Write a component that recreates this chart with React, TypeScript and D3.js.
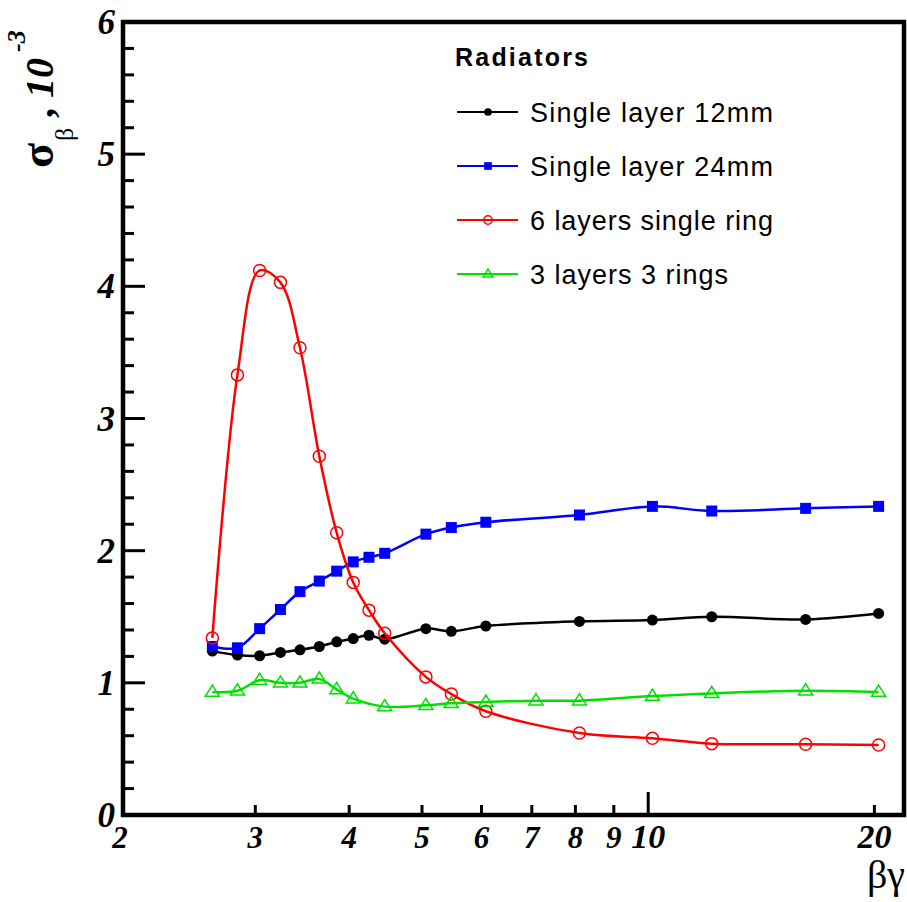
import React from 'react';
import * as d3 from 'd3';

const W = 907;
const H = 902;

// beta*gamma values of the measurement points
const xMain = [2.63, 2.84, 3.04, 3.24, 3.44, 3.65, 3.85, 4.05, 4.25, 4.46, 5.06, 5.47, 6.08, 8.10, 10.13, 12.15, 16.20, 20.26];
const xGreen = [2.63, 2.84, 3.04, 3.24, 3.44, 3.65, 3.85, 4.05, 4.46, 5.06, 5.47, 6.08, 7.09, 8.10, 10.13, 12.15, 16.20, 20.26];

// sigma_beta, 10^-3
const single12 = [1.24, 1.21, 1.205, 1.23, 1.25, 1.275, 1.31, 1.335, 1.36, 1.33, 1.41, 1.39, 1.43, 1.465, 1.475, 1.50, 1.48, 1.525];
const single24 = [1.275, 1.265, 1.41, 1.555, 1.69, 1.77, 1.845, 1.915, 1.95, 1.98, 2.125, 2.175, 2.215, 2.27, 2.335, 2.30, 2.32, 2.335];
const sixLayers = [1.34, 3.33, 4.12, 4.03, 3.535, 2.715, 2.135, 1.76, 1.55, 1.375, 1.045, 0.915, 0.785, 0.62, 0.58, 0.54, 0.535, 0.53];
const threeLayers = [0.93, 0.94, 1.02, 1.0, 1.0, 1.03, 0.95, 0.88, 0.82, 0.83, 0.845, 0.855, 0.865, 0.865, 0.90, 0.92, 0.94, 0.93];

const seriesNames = ['Single layer 12mm', 'Single layer 24mm', '6 layers single ring', '3 layers 3 rings'];
const seriesColors = ['#000000', '#0000ff', '#ff0000', '#00e000'];
const seriesMarkers = ['dot', 'square', 'circle', 'triangle'];
const legendWidths = [243, 243, 243, 198];

const yTickLabels = [0, 1, 2, 3, 4, 5, 6];
const xTickLabels = [2, 3, 4, 5, 6, 7, 8, 9, 10, 20];

const L = 123, R = 904, T = 22, B = 815;

const x = d3.scaleLog().domain([2, 21.9]).range([L, R]);
const y = d3.scaleLinear().domain([0, 6]).range([B, T]);

function Marker({ kind, cx, cy, color, s = 1 }: { kind: string; cx: number; cy: number; color: string; s?: number }) {
  if (kind === 'dot') return <circle cx={cx} cy={cy} r={5.5 * s} fill={color} />;
  if (kind === 'square') {
    const h = 5.5 * s;
    return <rect x={cx - h} y={cy - h} width={2 * h} height={2 * h} fill={color} />;
  }
  if (kind === 'circle') return <circle cx={cx} cy={cy} r={6 * s} fill="none" stroke={color} strokeWidth={1.5} />;
  const a = 7 * s;
  const pts = `${cx},${cy - a} ${cx - a},${cy + a * 0.6} ${cx + a},${cy + a * 0.6}`;
  return <polygon points={pts} fill="none" stroke={color} strokeWidth={1.5} />;
}

export default function App() {
  const series = [
    { xs: xMain, ys: single12 },
    { xs: xMain, ys: single24 },
    { xs: xMain, ys: sixLayers },
    { xs: xGreen, ys: threeLayers },
  ];
  const line = d3
    .line<[number, number]>()
    .x((d) => x(d[0]))
    .y((d) => y(d[1]))
    .curve(d3.curveCatmullRom.alpha(0.5));

  const yTicks = d3.range(0, 6.001, 0.2);
  const serif = "'Liberation Serif', 'Times New Roman', serif";
  const sans = "'Liberation Sans', Arial, sans-serif";

  return (
    <svg width={W} height={H} style={{ position: 'absolute', left: 0, top: 0, background: '#fff' }}>
      <rect x={0} y={0} width={W} height={H} fill="#fff" />
      {/* series */}
      {series.map((s, i) => {
        const pts: [number, number][] = s.xs.map((xv, j) => [xv, s.ys[j]]);
        return (
          <g key={i}>
            <path d={line(pts) || ''} fill="none" stroke={seriesColors[i]} strokeWidth={2.5} />
            {pts.map((p, j) => (
              <Marker key={j} kind={seriesMarkers[i]} cx={x(p[0])} cy={y(p[1])} color={seriesColors[i]} />
            ))}
          </g>
        );
      })}

      {/* y ticks */}
      {yTicks.map((v, i) => {
        const major = Math.abs(v - Math.round(v)) < 1e-6;
        return <line key={i} x1={L} x2={L + (major ? 22 : 11)} y1={y(v)} y2={y(v)} stroke="#000" strokeWidth={3} />;
      })}
      {/* x ticks */}
      {xTickLabels.filter((v) => v !== 2).map((v) => (
        <line key={v} x1={x(v)} x2={x(v)} y1={B} y2={B - (v === 10 ? 23 : 10)} stroke="#000" strokeWidth={3} />
      ))}

      {/* frame */}
      <rect x={L} y={T} width={R - L} height={B - T} fill="none" stroke="#000" strokeWidth={4.5} />

      {/* y tick labels */}
      {yTickLabels.map((v) => (
        <text key={v} x={115} y={y(v) + 12} textAnchor="end" fontFamily={serif} fontWeight="bold" fontStyle="italic" fontSize={35}>
          {v}
        </text>
      ))}
      {/* x tick labels */}
      {xTickLabels.map((v) => (
        <text key={v} x={x(v) - (v === 2 ? 3 : 0)} y={848} textAnchor="middle" fontFamily={serif} fontWeight="bold" fontStyle="italic" fontSize={v >= 10 ? 34 : 31}>
          {v}
        </text>
      ))}

      {/* axis titles */}
      <text x={905} y={888} textAnchor="end" fontFamily={serif} fontSize={40}>
        βγ
      </text>
      <g transform="translate(53,168) rotate(-90)" fontFamily={serif} fontWeight="bold">
        <text x={0} y={0} fontSize={46}>σ</text>
        <text x={27} y={20} fontSize={26} fontWeight="normal">β</text>
        <text x={50} y={0} fontSize={40}>,</text>
        <text x={70} y={0} fontSize={40} fontStyle="italic">10</text>
        <text x={116} y={-28} fontSize={26} fontStyle="italic">-3</text>
      </g>

      {/* legend */}
      <text x={455} y={66} fontFamily={sans} fontWeight="bold" fontSize={25} textLength={133} lengthAdjust="spacing">
        Radiators
      </text>
      {seriesNames.map((name, i) => {
        const cy = 112 + i * 54;
        return (
          <g key={name}>
            <line x1={457} x2={518} y1={cy} y2={cy} stroke={seriesColors[i]} strokeWidth={2} />
            <Marker kind={seriesMarkers[i]} cx={488} cy={cy} color={seriesColors[i]} s={0.7} />
            <text x={530} y={cy + 10} fontFamily={sans} fontSize={27} fill="#000" textLength={legendWidths[i]} lengthAdjust="spacing">
              {name}
            </text>
          </g>
        );
      })}
    </svg>
  );
}
